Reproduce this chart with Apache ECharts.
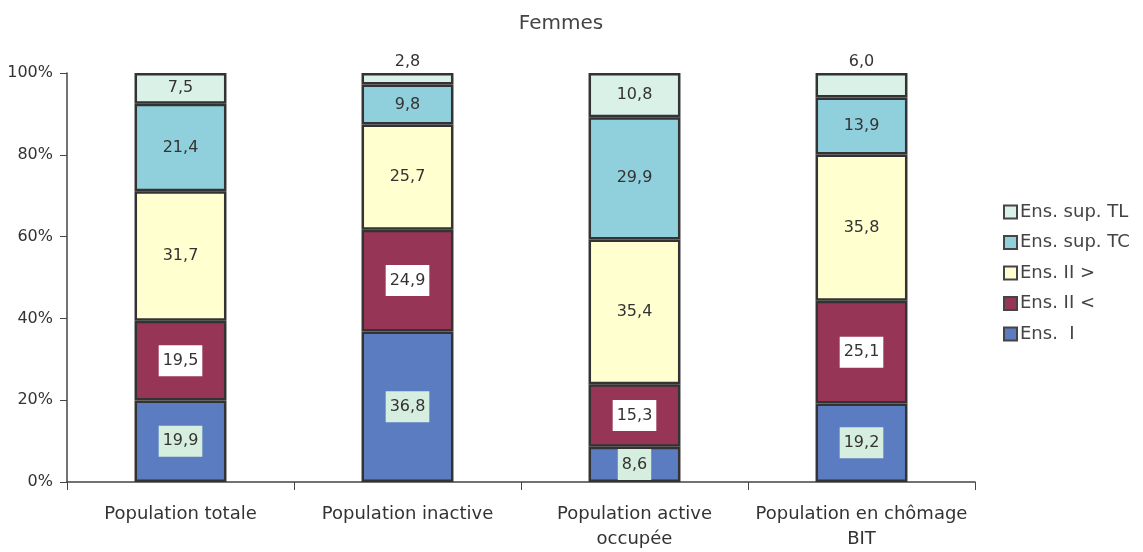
<!DOCTYPE html>
<html><head><meta charset="utf-8">
<script src="https://cdn.jsdelivr.net/npm/echarts@6/dist/echarts.min.js"></script>
<style>html,body{margin:0;padding:0;background:#fff}#c{width:1143px;height:552px}</style>
</head><body><div id="c"></div>
<script>
const categories = ['Population totale', 'Population inactive', 'Population active\noccupée', 'Population en chômage\nBIT'];
const ensI = [19.9, 36.8, 8.6, 19.2];
const ensIIlow = [19.5, 24.9, 15.3, 25.1];
const ensIIhigh = [31.7, 25.7, 35.4, 35.8];
const ensSupTC = [21.4, 9.8, 29.9, 13.9];
const ensSupTL = [7.5, 2.8, 10.8, 6.0];
const seriesNames = ['Ens.  I', 'Ens. II <', 'Ens. II >', 'Ens. sup. TC', 'Ens. sup. TL'];
const yTicks = ['0%', '20%', '40%', '60%', '80%', '100%'];
const tlTopLabel = [false, true, false, true];

const colors = ['#5b7cc0', '#973556', '#ffffcf', '#90cfdc', '#d9f1e7'];
const fmt = v => v.toFixed(1).replace('.', ',');
const font = 'DejaVu Sans, Verdana, sans-serif';

function mk(name, data, color, labelExtra, topFlags) {
  return {
    name, type: 'bar', stack: 's', barWidth: '40.5%',
    itemStyle: { color, borderColor: '#333', borderWidth: 2.5 },
    data: data.map((v, i) => {
      const d = { value: v };
      if (topFlags && topFlags[i]) d.label = { position: 'top', distance: 3 };
      return d;
    }),
    label: Object.assign({ show: true, position: 'inside', formatter: p => fmt(p.value),
      color: '#333', fontSize: 16, fontFamily: font }, labelExtra || {})
  };
}

const chart = echarts.init(document.getElementById('c'), null, { renderer: 'canvas' });
chart.setOption({
  animation: false,
  backgroundColor: '#fff',
  title: { text: 'Femmes', left: 556, top: 9, textAlign: 'center',
    textStyle: { fontSize: 20, fontWeight: 'normal', color: '#444', fontFamily: font } },
  grid: { left: 67, right: 168, top: 73, bottom: 69 },
  legend: {
    orient: 'vertical', left: 998, top: 198, itemGap: 12.5, itemWidth: 13, itemHeight: 13,
    icon: 'rect',
    data: seriesNames.slice().reverse(),
    textStyle: { fontSize: 18, color: '#444', fontFamily: font, padding: [0, 0, 0, -2] },
    itemStyle: { borderColor: '#444', borderWidth: 2 }
  },
  xAxis: {
    type: 'category', data: categories,
    axisLine: { lineStyle: { color: '#444', width: 1.5 } },
    axisTick: { show: true, length: 8, inside: false, lineStyle: { color: '#444' } },
    axisLabel: { interval: 0, fontSize: 18, color: '#333', fontFamily: font, margin: 20, lineHeight: 25 }
  },
  yAxis: {
    type: 'value', min: 0, max: 100, interval: 20,
    axisLine: { show: true, lineStyle: { color: '#444', width: 1.5 } },
    axisTick: { show: true, length: 7, lineStyle: { color: '#444' } },
    splitLine: { show: false },
    axisLabel: { fontSize: 16, color: '#333', fontFamily: font, margin: 14,
      formatter: v => yTicks[v / 20] }
  },
  series: [
    mk(seriesNames[0], ensI, colors[0], { backgroundColor: '#d6eedf', padding: [8, 4, 7, 4] }),
    mk(seriesNames[1], ensIIlow, colors[1], { backgroundColor: '#ffffff', padding: [8, 4, 7, 4] }),
    mk(seriesNames[2], ensIIhigh, colors[2]),
    mk(seriesNames[3], ensSupTC, colors[3]),
    mk(seriesNames[4], ensSupTL, colors[4], null, tlTopLabel)
  ]
});
</script></body></html>
